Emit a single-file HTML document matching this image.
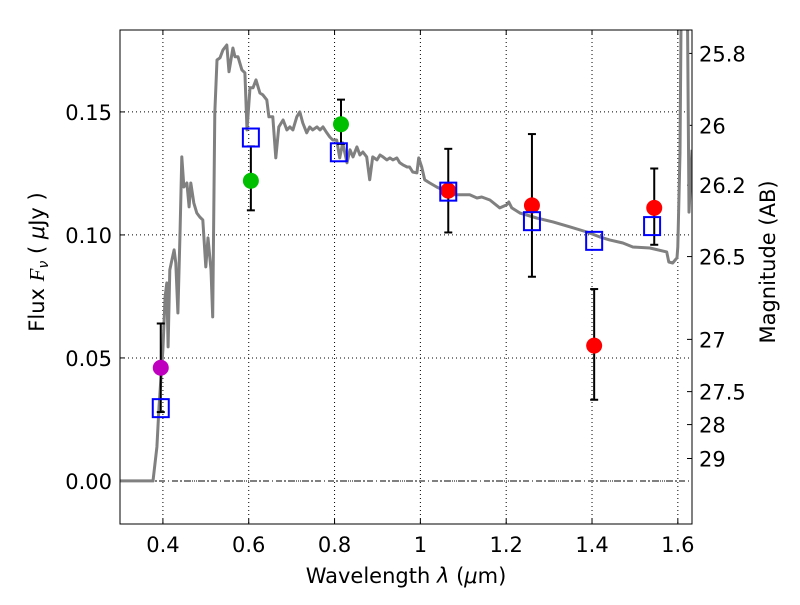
<!DOCTYPE html>
<html><head><meta charset="utf-8"><style>
body{margin:0;background:#fff;}
svg text{font-family:"DejaVu Sans","Liberation Sans",sans-serif;font-size:21px;fill:#000;}
</style></head><body>
<svg id="chart" width="800" height="600" xmlns="http://www.w3.org/2000/svg"></svg>
<script>
const specX=[0.300,0.377,0.386,0.391,0.400,0.405,0.409,0.412,0.416,0.421,0.426,0.430,0.435,0.440,0.444,0.449,0.456,0.461,0.465,0.472,0.479,0.486,0.493,0.500,0.505,0.512,0.516,0.521,0.526,0.533,0.540,0.549,0.554,0.563,0.568,0.575,0.584,0.591,0.596,0.603,0.610,0.617,0.626,0.633,0.642,0.647,0.656,0.663,0.670,0.680,0.689,0.696,0.703,0.712,0.719,0.726,0.735,0.742,0.749,0.759,0.766,0.773,0.782,0.789,0.796,0.805,0.812,0.819,0.829,0.836,0.843,0.852,0.859,0.866,0.875,0.882,0.889,0.899,0.906,0.913,0.922,0.929,0.936,0.945,0.952,0.959,0.969,0.975,0.982,0.992,0.996,1.003,1.010,1.022,1.038,1.052,1.076,1.099,1.115,1.132,1.143,1.162,1.185,1.201,1.206,1.213,1.232,1.271,1.309,1.348,1.388,1.418,1.441,1.472,1.495,1.535,1.574,1.579,1.588,1.598,1.600,1.605,1.609,1.621,1.626,1.633];
const specY=[0,0,0.0138,0.0301,0.0533,0.0748,0.0805,0.0545,0.0858,0.0898,0.0939,0.0886,0.0683,0.1020,0.1317,0.1195,0.1211,0.1114,0.1211,0.1130,0.1089,0.1073,0.1061,0.0870,0.0988,0.0858,0.0667,0.1496,0.1711,0.1720,0.1752,0.1772,0.1663,0.1760,0.1724,0.1724,0.1671,0.1659,0.1427,0.1598,0.1598,0.1630,0.1577,0.1569,0.1549,0.1480,0.1480,0.1313,0.1439,0.1467,0.1427,0.1439,0.1427,0.1480,0.1500,0.1455,0.1415,0.1439,0.1427,0.1439,0.1427,0.1439,0.1415,0.1398,0.1386,0.1386,0.1313,0.1374,0.1293,0.1346,0.1317,0.1358,0.1325,0.1337,0.1317,0.1224,0.1317,0.1305,0.1325,0.1317,0.1305,0.1313,0.1305,0.1313,0.1293,0.1285,0.1276,0.1276,0.1256,0.1252,0.1313,0.1276,0.1224,0.1211,0.1195,0.1183,0.1163,0.1163,0.1163,0.1150,0.1154,0.1142,0.1110,0.1122,0.1134,0.1110,0.1089,0.1069,0.1053,0.1033,0.1012,0.0992,0.0980,0.0967,0.0951,0.0947,0.0931,0.0890,0.0886,0.0907,0.0951,0.1333,0.22,0.22,0.1093,0.1346];
const modelX=[0.395,0.605,0.81,1.065,1.26,1.405,1.54];
const modelY=[0.030,0.140,0.134,0.118,0.106,0.098,0.104];
const obsX=[0.395,0.605,0.815,1.065,1.26,1.405,1.545];
const obsY=[0.046,0.122,0.145,0.118,0.112,0.055,0.111];
const obsLo=[0.028,0.110,0.137,0.101,0.083,0.033,0.096];
const obsHi=[0.064,0.136,0.155,0.135,0.141,0.078,0.127];
const obsColor=['#bf00bf','#00bf00','#00bf00','#ff0000','#ff0000','#ff0000','#ff0000'];
const xTicks=[0.4,0.6,0.8,1.0,1.2,1.4,1.6];
const xTickLabels=['0.4','0.6','0.8','1','1.2','1.4','1.6'];
const yTicks=[0,0.05,0.10,0.15];
const yTickLabels=['0.00','0.05','0.10','0.15'];
const magTicks=[25.8,26,26.2,26.5,27,27.5,28,29];
const magTickLabels=['25.8','26','26.2','26.5','27','27.5','28','29'];

const L=120,R=692,T=30,B=524,xmin=0.3,xmax=1.633,ymin=-0.0175,ymax=0.1833;
const sx=v=>L+(v-xmin)/(xmax-xmin)*(R-L);
const sy=v=>B-(v-ymin)/(ymax-ymin)*(B-T);
const magToF=m=>Math.pow(10,(23.9-m)/2.5);
const svg=document.getElementById('chart');
const NS='http://www.w3.org/2000/svg';
function mk(tag,attrs,parent){const e=document.createElementNS(NS,tag);for(const k in attrs)e.setAttribute(k,attrs[k]);(parent||svg).appendChild(e);return e;}

const clip=mk('clipPath',{id:'pc'});mk('rect',{x:L,y:T,width:R-L,height:B-T},clip);

xTicks.forEach((t,i)=>{
  const g=mk('line',{x1:sx(t),x2:sx(t),y1:T,y2:B,stroke:'#000','stroke-width':1,'stroke-dasharray':'1,3'});
  
  mk('line',{x1:sx(t),x2:sx(t),y1:B,y2:B-5,stroke:'#000'});
  mk('line',{x1:sx(t),x2:sx(t),y1:T,y2:T+5,stroke:'#000'});
  const tx=mk('text',{x:sx(t),y:B+28,'text-anchor':'middle'});tx.textContent=xTickLabels[i];
  
});
yTicks.forEach((t,i)=>{
  const g=mk('line',{x1:L,x2:R,y1:sy(t),y2:sy(t),stroke:'#000','stroke-width':1,'stroke-dasharray':'1,3'});
  
  mk('line',{x1:L,x2:L+5,y1:sy(t),y2:sy(t),stroke:'#000'});
  const tx=mk('text',{x:L-8,y:sy(t)+8,'text-anchor':'end'});tx.textContent=yTickLabels[i];
  
});
const zl=mk('line',{x1:L,x2:R,y1:sy(0),y2:sy(0),stroke:'#000','stroke-width':1,'stroke-dasharray':'6,3,1,3'});

magTicks.forEach((m,i)=>{
  const y=sy(magToF(m));
  mk('line',{x1:R-5,x2:R,y1:y,y2:y,stroke:'#000'});
  const tx=mk('text',{x:R+7,y:y+8,'text-anchor':'start'});tx.textContent=magTickLabels[i];
  
});

const g=mk('g',{'clip-path':'url(#pc)'});
const d=specX.map((x,i)=>(i?'L':'M')+sx(x).toFixed(1)+','+sy(specY[i]).toFixed(1)).join('');
const sp=mk('path',{d:d,fill:'none',stroke:'#808080','stroke-width':3,'stroke-linejoin':'round'},g);


obsX.forEach((x,i)=>{
  const X=sx(x);
  const eb=mk('g',{});
  
  mk('line',{x1:X,x2:X,y1:sy(obsLo[i]),y2:sy(obsHi[i]),stroke:'#000','stroke-width':2},eb);
  mk('line',{x1:X-4,x2:X+4,y1:sy(obsLo[i]),y2:sy(obsLo[i]),stroke:'#000','stroke-width':2},eb);
  mk('line',{x1:X-4,x2:X+4,y1:sy(obsHi[i]),y2:sy(obsHi[i]),stroke:'#000','stroke-width':2},eb);
  const c=mk('circle',{cx:X,cy:sy(obsY[i]),r:8,fill:obsColor[i]});
  
});
modelX.forEach((x,i)=>{
  const r=mk('rect',{x:sx(x)-8,y:sy(modelY[i])-8,width:16,height:18,fill:'none',stroke:'#0000ff','stroke-width':2});
  
});

const fr=mk('rect',{x:L,y:T,width:R-L,height:B-T,fill:'none',stroke:'#000','stroke-width':1});


let t=mk('text',{x:(L+R)/2,y:583,'text-anchor':'middle'});
t.innerHTML='Wavelength  <tspan font-style="italic">λ</tspan> (<tspan font-style="italic">μ</tspan>m)';

t=mk('text',{x:0,y:0,'text-anchor':'middle',transform:'translate(44,262) rotate(-90)'});
t.innerHTML='Flux  <tspan font-style="italic" font-family="Liberation Serif">F</tspan><tspan font-style="italic" font-size="14" dy="4">ν</tspan><tspan dy="-4">  (  </tspan><tspan font-style="italic">μ</tspan>Jy )';

t=mk('text',{x:0,y:0,'text-anchor':'middle',transform:'translate(775,262) rotate(-90)'});
t.textContent='Magnitude (AB)';

</script>
</body></html>
